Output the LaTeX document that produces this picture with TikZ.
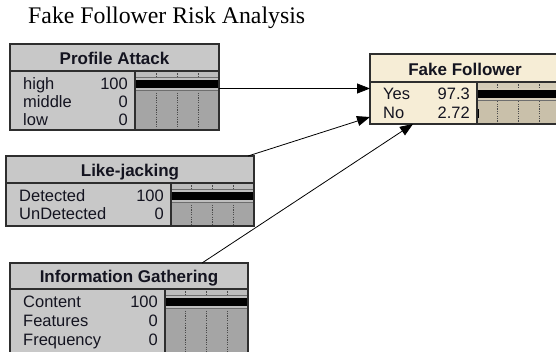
\documentclass[tikz,border=0pt]{standalone}
\usepackage{fontspec}
\setmainfont{Liberation Sans}
\newfontfamily\serifttl{Liberation Serif}
\usetikzlibrary{arrows.meta}
\definecolor{gfill}{HTML}{C8C8C8}
\definecolor{gbar}{HTML}{A5A5A5}
\definecolor{gstrip}{HTML}{BCBCBC}
\definecolor{gband}{HTML}{BEBEBE}
\definecolor{bfill}{HTML}{F6EDD6}
\definecolor{bbar}{HTML}{C9C0AA}
\definecolor{bstrip}{HTML}{D3CBB6}
\definecolor{bband}{HTML}{D6CEBA}
\definecolor{frameline}{HTML}{2E2E2E}
\definecolor{gridc}{HTML}{4A4A4A}
\definecolor{txt}{HTML}{141420}
\tikzset{
  frame/.style={draw=frameline, line width=1.3pt, inner sep=0pt, outer sep=0pt},
  sepline/.style={draw=frameline, line width=1.3pt},
  stripline/.style={draw=gridc!80, line width=0.8pt},
  gridl/.style={draw=gridc, line width=0.9pt, dash pattern=on 1.2pt off 1.2pt},
  ttl/.style={font=\bfseries\fontsize{17}{17}\selectfont, text=txt, anchor=base, inner sep=0pt},
  lbl/.style={font=\fontsize{16.5}{16.5}\selectfont, text=txt, anchor=base west, inner sep=0pt},
  num/.style={font=\fontsize{16.5}{16.5}\selectfont, text=txt, anchor=base east, inner sep=0pt},
  arr/.style={-{Triangle[length=13pt,width=10pt]}, line width=0.8pt, draw=black},
}
% background of a node: #1 x1, #2 y1, #3 x2, #4 y2, #5 title bottom, #6 divider x, #7 colour prefix
\newcommand{\boxbg}[7]{%
  \fill[#7fill] (#1,#2) rectangle (#3,#4);
  \fill[#7bar] (#6,#5) rectangle (#3,#4);
  \fill[#7strip] (#6,#5) rectangle (#3,#5+6);
  \draw[stripline] (#6,#5+6) -- (#3,#5+6);
  \foreach \k in {1,2,3} \draw[gridl] ({#6+\k*(#3-#6)/4},#5) -- ({#6+\k*(#3-#6)/4},#4);
}
% probability bar: #1 divider x, #2 right x, #3 row centre, #4 fraction, #5 colour prefix
\newcommand{\bnbar}[5]{%
  \fill[#5band] (#1,#3-6) rectangle ({#1+#4*(#2-#1)},#3+6);
  \draw[stripline] (#1,#3+6) -- ({#1+#4*(#2-#1)},#3+6);
  \fill[black] (#1,#3-4.5) rectangle ({#1+#4*(#2-#1)},#3+4);
}
\begin{document}
\begin{tikzpicture}[x=1pt,y=-1pt]
\useasboundingbox (0,0) rectangle (556,351);
\clip (0,0) rectangle (556,351);
\fill[white] (0,0) rectangle (556,351);

\node[font=\serifttl\fontsize{23.8}{24}\selectfont, anchor=base west, inner sep=0pt] (title) at (28,23) {Fake Follower Risk Analysis};

% ---------- Profile Attack ----------
\boxbg{10}{44}{219}{130}{71}{135}{g}
\bnbar{135}{219}{84}{1}{g}
\node[frame, minimum width=209pt, minimum height=86pt, anchor=north west] (pa) at (10,44) {};
\draw[sepline] (10,71) -- (219,71);
\draw[sepline] (135,71) -- (135,130);
\node[ttl] (pa-t) at (114.5,64) {Profile Attack};
\node[lbl] (pa-l1) at (23,89) {high};
\node[lbl] (pa-l2) at (23,107) {middle};
\node[lbl] (pa-l3) at (23,125) {low};
\node[num] (pa-n1) at (128,89) {100};
\node[num] (pa-n2) at (128,107) {0};
\node[num] (pa-n3) at (128,125) {0};

% ---------- Fake Follower ----------
\boxbg{370}{54}{560}{124}{82}{477}{b}
\bnbar{477}{560}{94}{0.973}{b}
\fill[black] (477,108.5) rectangle (479.3,118);
\node[frame, minimum width=190pt, minimum height=70pt, anchor=north west] (ff) at (370,54) {};
\draw[sepline] (370,82) -- (560,82);
\draw[sepline] (477,82) -- (477,124);
\node[ttl] (ff-t) at (465,75) {Fake Follower};
\node[lbl] (ff-l1) at (383,99) {Yes};
\node[lbl] (ff-l2) at (383,118) {No};
\node[num] (ff-n1) at (470,99) {97.3};
\node[num] (ff-n2) at (470,118) {2.72};

% ---------- Like-jacking ----------
\boxbg{6}{156}{254}{226}{183}{171}{g}
\bnbar{171}{254}{196}{1}{g}
\node[frame, minimum width=248pt, minimum height=70pt, anchor=north west] (lj) at (6,156) {};
\draw[sepline] (6,183) -- (254,183);
\draw[sepline] (171,183) -- (171,226);
\node[ttl] (lj-t) at (130,176) {Like-jacking};
\node[lbl] (lj-l1) at (19,201) {Detected};
\node[lbl] (lj-l2) at (19,219) {UnDetected};
\node[num] (lj-n1) at (164,201) {100};
\node[num] (lj-n2) at (164,219) {0};

% ---------- Information Gathering ----------
\boxbg{10}{263}{248}{362}{289}{165}{g}
\bnbar{165}{248}{302}{1}{g}
\node[frame, minimum width=238pt, minimum height=99pt, anchor=north west] (ig) at (10,263) {};
\draw[sepline] (10,289) -- (248,289);
\draw[sepline] (165,289) -- (165,362);
\node[ttl] (ig-t) at (129,282) {Information Gathering};
\node[lbl] (ig-l1) at (23,307) {Content};
\node[lbl] (ig-l2) at (23,326) {Features};
\node[lbl] (ig-l3) at (23,345) {Frequency};
\node[num] (ig-n1) at (158,307) {100};
\node[num] (ig-n2) at (158,326) {0};
\node[num] (ig-n3) at (158,345) {0};

% ---------- connectors ----------
\coordinate (pa-o) at (pa.east |- 0,88.5);
\coordinate (ff-i1) at (ff.west |- 0,88.5);
\coordinate (lj-o) at (248,156);
\coordinate (ff-i2) at (ff.west |- 0,117);
\coordinate (ig-o) at (202,263);
\coordinate (ff-i3) at (413,124);
\draw[arr] (pa-o) -- (ff-i1);
\draw[arr] (lj-o) -- (ff-i2);
\draw[arr] (ig-o) -- (ff-i3);
\end{tikzpicture}
\end{document}
